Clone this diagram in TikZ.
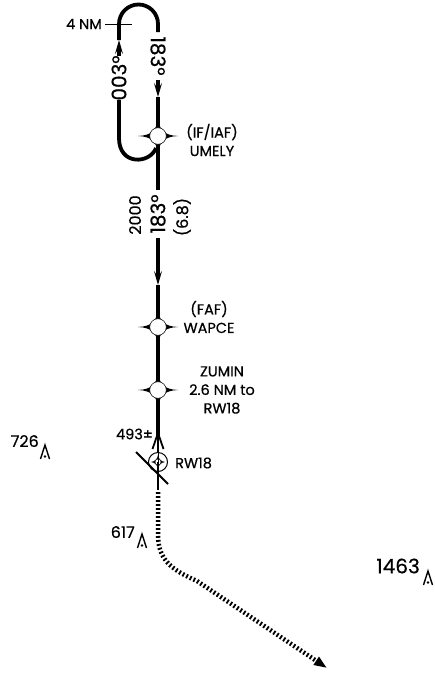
\documentclass[tikz,border=0pt]{standalone}
\usepackage{fontspec}
\setmainfont{Poppins}[FakeBold=0.5]
\usetikzlibrary{arrows.meta}
\tikzset{
  track/.style={line width=3.8pt},
  barb/.style={-{Stealth[length=14pt,width=8pt,inset=6pt]}},
  lbl/.style={font=\fontsize{14.5}{18.5}\selectfont, inner sep=0pt, align=center},
  crs/.style={font=\fontsize{20}{22}\selectfont, inner sep=0pt},
  alt/.style={font=\fontsize{16}{18}\selectfont, inner sep=0pt},
  elev/.style={font=\fontsize{16}{18}\selectfont, inner sep=0pt},
  fixsym/.pic={
    \fill (20,0) .. controls (6,0.6) and (0.6,6) .. (0,20) .. controls (-0.6,6) and (-6,0.6) .. (-20,0)
      .. controls (-6,-0.6) and (-0.6,-6) .. (0,-20) .. controls (0.6,-6) and (6,-0.6) .. cycle;
    \filldraw[fill=white, line width=0.5pt] (0,0) circle[radius=8.3];
  },
  peak/.pic={
    \draw[line width=1.4pt, line join=miter] (-4.5,7) -- (0,-7) -- (4.5,7);
    \fill (0,4.5) circle[radius=1.4];
  }
}
\begin{document}
\begin{tikzpicture}[x=1pt,y=-1pt]
\useasboundingbox (0,0) rectangle (435,673);
% coordinates
\coordinate (umely) at (158,136);
\coordinate (faf) at (158,327);
\coordinate (zumin) at (158,390);
\coordinate (rw) at (158,462);
\coordinate (lbot) at (119,138);
\coordinate (lgapB) at (119,100);
\coordinate (lgapT) at (119,56);
\coordinate (ltip) at (119,40);
\coordinate (ltop) at (119,24);
\coordinate (rgapT) at (158,32);
\coordinate (rgapB) at (158,80);
\coordinate (rtip) at (158,97);
\coordinate (join) at (156,148);
\coordinate (mgapT) at (158,190);
\coordinate (mgapB) at (158,238);
\coordinate (mtip) at (158,285);
\coordinate (mend) at (158,437);
\coordinate (dstart) at (158,492);
\coordinate (dbend) at (158,535);
\coordinate (dmid) at (197,581);
\coordinate (dend) at (327,668);

% holding pattern
\draw[track] (join) .. controls (150,164) and (119,166) .. (lbot) -- (lgapB);
\draw[track, barb] (lgapT) -- (ltip);
\draw[track] (ltip) -- (ltop) arc[start angle=180, end angle=360, radius=19.5] -- (rgapT);
\draw[track, barb] (rgapB) -- (rtip);
\draw[track] (rtip) -- (umely);
\node[crs, rotate=90] (t003) at (119,78) {003°};
\node[crs, rotate=-90] (t183a) at (158,56) {183°};
\coordinate (tickL) at (105,24);
\coordinate (tickR) at (132,24);
\draw[line width=1pt] (tickL) -- (tickR);
\node[lbl, anchor=east] (nm4) at (102,24) {4 NM};

% main track
\draw[track] (umely) -- (mgapT);
\draw[track, barb] (mgapB) -- (mtip);
\draw[track] (mtip) -- (faf) -- (zumin) -- (mend);
\node[alt, rotate=90] (a2000) at (135,215) {2000};
\node[crs, rotate=90] (t183b) at (158,214) {183°};
\node[alt, rotate=90] (d68) at (182,217) {(6.8)};

% fixes
\pic at (umely) {fixsym};
\pic at (faf) {fixsym};
\pic at (zumin) {fixsym};
\node[lbl] (umelyL) at (212,140) {(IF/IAF)\\UMELY};
\node[lbl] (fafL) at (209,317) {(FAF)\\WAPCE};
\node[lbl] (zuminL) at (222,390) {ZUMIN\\2.6 NM to\\RW18};

% missed approach point / runway
\coordinate (chL) at (152.5,449);
\coordinate (chT) at (158,433);
\coordinate (chR) at (163.5,449);
\draw[line width=1.8pt] (chL) -- (chT) -- (chR);
\draw[line width=1.6pt] (mend) -- (rw);
\node[lbl, anchor=east] (alt493) at (153,434) {493±};
\filldraw[fill=white, line width=1pt] (rw) circle[radius=9.5];
\begin{scope}[shift={(rw)}]
  \fill (7,0) .. controls (3,0.6) and (0.6,3) .. (0,7) .. controls (-0.6,3) and (-3,0.6) .. (-7,0)
      .. controls (-3,-0.6) and (-0.6,-3) .. (0,-7) .. controls (0.6,-3) and (3,-0.6) .. cycle;
  \filldraw[fill=white, line width=0.4pt] (0,0) circle[radius=3];
\end{scope}
\coordinate (rwT) at (158,452.5);
\coordinate (rwB) at (158,490);
\draw[line width=1pt] (rwT) -- (rw);
\draw[line width=2.6pt] (rw) -- (rwB);
\coordinate (diagA) at (136,452);
\coordinate (diagB) at (168,484);
\draw[line width=2pt] (diagA) -- (diagB);
\node[lbl, anchor=west] (rwL) at (175,463) {RW18};

% missed approach dotted
\draw[line width=4.5pt, dash pattern=on 1.8pt off 2.2pt, -{Triangle[length=13pt,width=9pt]}]
  (dstart) -- (dbend) .. controls (158,560) and (172,570) .. (dmid) -- (dend);

% spot elevations
\node[elev, anchor=east] (e726) at (39,441) {726};
\pic at (45,452) {peak};
\node[elev, anchor=east] (e617) at (135,532) {617};
\pic at (142,541) {peak};
\node[font=\fontsize{20}{22}\selectfont, inner sep=0pt, anchor=east] (e1463) at (420,566) {1463};
\pic at (428,578) {peak};
\end{tikzpicture}
\end{document}
